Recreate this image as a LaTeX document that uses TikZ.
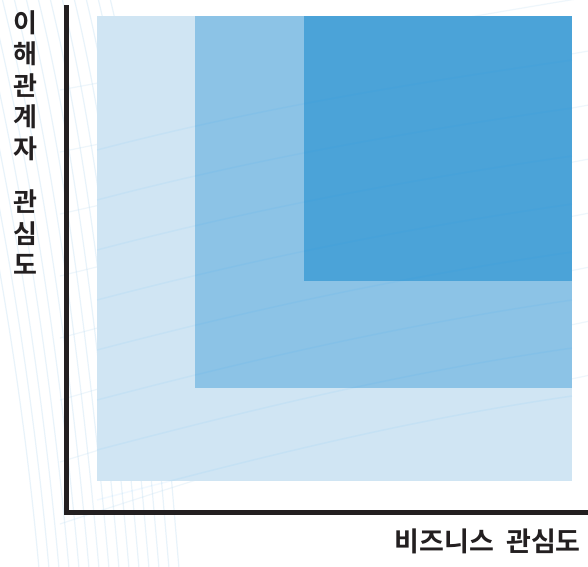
\documentclass[tikz,border=0pt]{standalone}
\usepackage{fontspec}
\newfontfamily\kr{Noto Sans CJK KR Bold}
\definecolor{ink}{HTML}{231F20}
\definecolor{lightbox}{HTML}{D0E5F3}
\definecolor{midbox}{HTML}{8CC3E6}
\definecolor{darkbox}{HTML}{4BA3D8}
\definecolor{wave}{HTML}{BFDDF2}
\tikzset{
  region/.style={draw=none},
  axis/.style={draw=ink, line width=4.5pt, line cap=butt},
  label/.style={text=ink, inner sep=0pt, font=\kr\fontsize{26}{31.5}\selectfont},
  watermark/.style={draw=wave, line width=1.2pt, opacity=0.35}
}
\begin{document}
\begin{tikzpicture}[x=1pt,y=-1pt]
\useasboundingbox (0,0) rectangle (588,566);
\fill[white] (0,0) rectangle (588,566);
% faint background watermark curves
\foreach \i in {0,...,14} {
  \draw[watermark] ({-60+\i*12},-10) .. controls ({-20+\i*12},150) and ({20+\i*10},350) .. ({40+\i*10},580);
}
\foreach \i in {0,...,7} {
  \draw[watermark, opacity=0.25] (60,{90+\i*62}) .. controls (250,{55+\i*58}) and (420,{25+\i*55}) .. (600,{-5+\i*54});
}
% regions
\fill[lightbox, region] (97,16) rectangle (572,481);
\fill[midbox, region] (195,16) rectangle (572,388);
\fill[darkbox, region] (304,16) rectangle (572,281);
% faint curves across the regions
\foreach \i in {0,...,7} {
  \draw[blue!40!cyan, line width=1.5pt, opacity=0.05] (97,{150+\i*50}) .. controls (250,{110+\i*50}) and (400,{85+\i*48}) .. (572,{60+\i*48});
}
% axes
\coordinate (top) at (66.5,5);
\coordinate (origin) at (66.5,512.5);
\coordinate (right) at (588,512.5);
\draw[axis] (top) -- (origin) -- (right);
% labels
\node[label, align=center, anchor=north] (ylab) at (25,10) {이\\해\\관\\계\\자\\[22pt]관\\심\\도};
\node[label, anchor=east, font=\kr\fontsize{27}{32}\selectfont] (xlab) at (581,541) {비즈니스\hspace{0.45em}관심도};
\end{tikzpicture}
\end{document}
